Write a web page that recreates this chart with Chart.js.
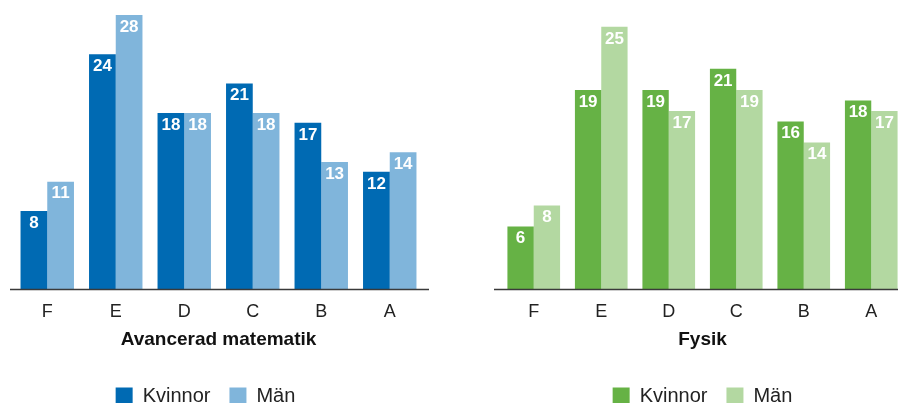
<!DOCTYPE html>
<html>
<head>
<meta charset="utf-8">
<script src="https://cdn.jsdelivr.net/npm/chart.js@4.4.1/dist/chart.umd.min.js"></script>
<style>
  html, body { margin: 0; padding: 0; background: #fff; overflow: hidden; width: 898px; height: 403px; }
  .box { position: absolute; top: 0; height: 416px; }
  #boxMatte { left: 0; width: 450px; }
  #boxFysik { left: 450px; width: 460px; }
</style>
</head>
<body>
<div class="box" id="boxMatte"><canvas id="matteChart"></canvas></div>
<div class="box" id="boxFysik"><canvas id="fysikChart"></canvas></div>
<script>
// betyg per ämne, andel i procent
const grades = ["F", "E", "D", "C", "B", "A"];
const matteKvinnor = [8, 24, 18, 21, 17, 12];
const matteMan = [11, 28, 18, 18, 13, 14];
const fysikKvinnor = [6, 19, 19, 21, 16, 18];
const fysikMan = [8, 25, 17, 19, 14, 17];

const FONT = '"Liberation Sans", Arial, sans-serif';

// baseline + white value labels inside the bar tops
const barLabels = {
  id: "barLabels",
  afterLayout(chart, args, opts) {
    // nudge the legend sideways without moving the axis
    if (opts.legendShift && chart.legend) {
      chart.legend.left += opts.legendShift;
      chart.legend.right += opts.legendShift;
    }
  },
  afterDatasetsDraw(chart, args, opts) {
    const ctx = chart.ctx;
    const area = chart.chartArea;
    const y0 = chart.scales.y.getPixelForValue(0);
    ctx.save();
    ctx.strokeStyle = "#3a3a3a";
    ctx.lineWidth = 1.5;
    ctx.beginPath();
    ctx.moveTo(area.left - (opts.lineLeft || 0), y0);
    ctx.lineTo(area.right + (opts.lineRight || 0), y0);
    ctx.stroke();

    ctx.fillStyle = "#fff";
    ctx.font = "bold 17px " + FONT;
    ctx.textAlign = "center";
    ctx.textBaseline = "middle";
    chart.data.datasets.forEach((ds, i) => {
      chart.getDatasetMeta(i).data.forEach((bar, j) => {
        ctx.fillText(String(ds.data[j]), bar.x, bar.y + 12);
      });
    });
    ctx.restore();
  }
};

function renderGradeChart(canvasId, title, kvinnor, man, colors, yMax, pad, extra) {
  return new Chart(document.getElementById(canvasId), {
    type: "bar",
    data: {
      labels: grades,
      datasets: [
        { label: "Kvinnor", data: kvinnor, backgroundColor: colors[0] },
        { label: "Män", data: man, backgroundColor: colors[1] }
      ]
    },
    options: {
      responsive: true,
      maintainAspectRatio: false,
      animation: false,
      layout: { padding: pad },
      datasets: { bar: { barPercentage: 1, categoryPercentage: 0.78 } },
      scales: {
        x: {
          grid: { display: false },
          border: { display: false },
          ticks: { color: "#222", font: { family: FONT, size: 18 }, padding: 4 },
          title: {
            display: true,
            text: title,
            color: "#111",
            font: { family: FONT, size: 19, weight: "bold" },
            padding: { top: 1, bottom: 16 }
          }
        },
        y: { display: false, min: 0, max: yMax }
      },
      plugins: {
        tooltip: { enabled: false },
        barLabels: extra,
        legend: {
          position: "bottom",
          labels: {
            color: "#222",
            font: { family: FONT, size: 20 },
            boxWidth: 17,
            boxHeight: 17,
            padding: 19
          }
        }
      }
    },
    plugins: [barLabels]
  });
}

renderGradeChart("matteChart", "Avancerad matematik", matteKvinnor, matteMan,
  ["#006AB3", "#80B5DB"], 28.5,
  { top: 10, left: 13, right: 26, bottom: 0 }, { lineLeft: 3, lineRight: 5, legendShift: -13 });

renderGradeChart("fysikChart", "Fysik", fysikKvinnor, fysikMan,
  ["#66B245", "#B3D8A1"], 26.6,
  { top: 10, left: 50, right: 5, bottom: 0 }, { lineLeft: 6, lineRight: 5 });
</script>
</body>
</html>
